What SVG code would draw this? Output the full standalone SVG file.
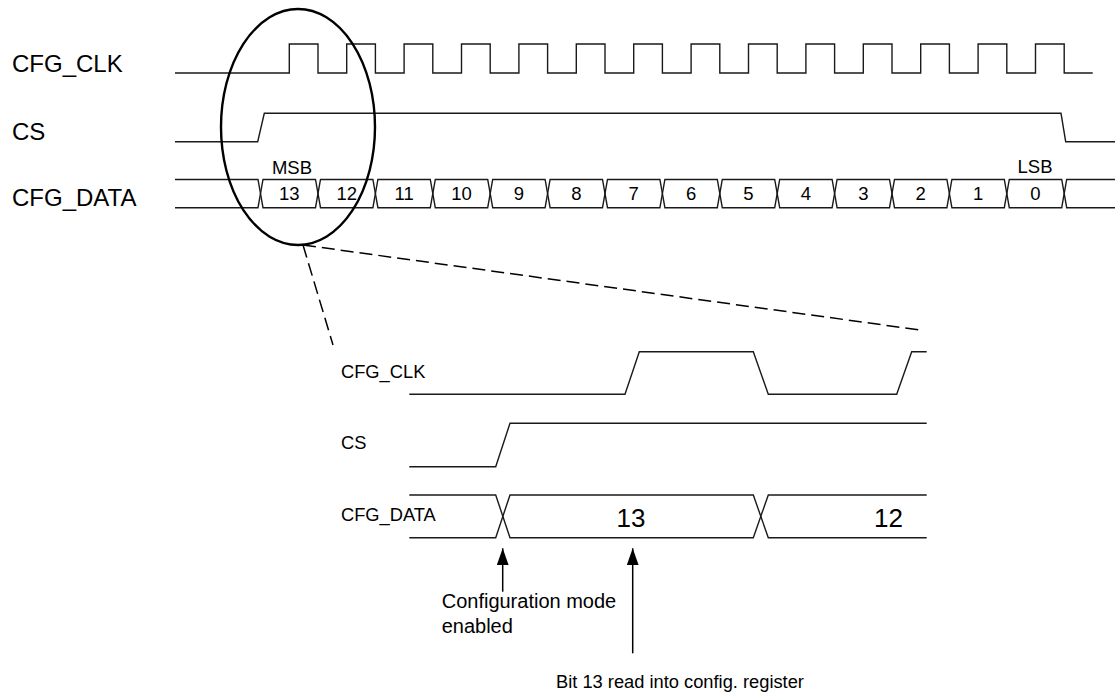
<svg xmlns="http://www.w3.org/2000/svg" width="1115" height="695" viewBox="0 0 1115 695">
<defs>
<style>
text{font-family:"Liberation Sans",Arial,Helvetica,sans-serif;fill:#000}
.sig{fill:none;stroke:#1a1a1a;stroke-width:1.4;stroke-linejoin:miter}
.lbl{font-size:24px}
.lbl2{font-size:18.3px}
.bit{font-size:18.5px;text-anchor:middle}
.big{font-size:26px;text-anchor:middle}
.note{font-size:20px}
.note2{font-size:18.3px}
.dash{fill:none;stroke:#000;stroke-width:1.5;stroke-dasharray:13 6}
.arr{fill:none;stroke:#000;stroke-width:1.5}
</style>
<marker id="ah" markerUnits="userSpaceOnUse" markerWidth="17" markerHeight="12" refX="17" refY="6" orient="auto">
<path d="M0,0 L17,6 L0,12 z" fill="#000"/>
</marker>
</defs>
<rect width="1115" height="695" fill="#fff"/>

<g id="labels-top">
<text class="lbl" x="12" y="72">CFG_CLK</text>
<text class="lbl" x="12" y="140">CS</text>
<text class="lbl" x="12" y="206">CFG_DATA</text>
<text class="bit" x="292" y="174">MSB</text>
<text class="bit" x="1035" y="173">LSB</text>
</g>

<g id="cfg-clk-top">
<path class="sig" d="M175,73 H289.3 V44 H318 V73 H346.7 V44 H375.4 V73 H404.1 V44 H432.8 V73 H461.5 V44 H490.2 V73 H518.9 V44 H547.6 V73 H576.3 V44 H605 V73 H633.7 V44 H662.4 V73 H691.1 V44 H719.8 V73 H748.5 V44 H777.2 V73 H805.9 V44 H834.6 V73 H863.3 V44 H892 V73 H920.7 V44 H949.4 V73 H978.1 V44 H1006.8 V73 H1035.5 V44 H1064.2 V73 H1092.7"/>
</g>

<g id="cs-top">
<path class="sig" d="M175,141.7 H257.7 L264.3,113.3 H1061 L1065.7,141.7 H1115"/>
</g>

<g id="cfg-data-top">
<path class="sig" d="M175,179.5 H258 L263,207.7 H315.5 L320.5,179.5 H372.9 L377.9,207.7 H430.3 L435.3,179.5 H487.7 L492.7,207.7 H545.1 L550.1,179.5 H602.5 L607.5,207.7 H659.9 L664.9,179.5 H717.3 L722.3,207.7 H774.7 L779.7,179.5 H832.1 L837.1,207.7 H889.5 L894.5,179.5 H946.9 L951.9,207.7 H1004.3 L1009.3,179.5 H1061.7 L1066.7,207.7 H1115"/>
<path class="sig" d="M175,207.7 H258 L263,179.5 H315.5 L320.5,207.7 H372.9 L377.9,179.5 H430.3 L435.3,207.7 H487.7 L492.7,179.5 H545.1 L550.1,207.7 H602.5 L607.5,179.5 H659.9 L664.9,207.7 H717.3 L722.3,179.5 H774.7 L779.7,207.7 H832.1 L837.1,179.5 H889.5 L894.5,207.7 H946.9 L951.9,179.5 H1004.3 L1009.3,207.7 H1061.7 L1066.7,179.5 H1115"/>
<text class="bit" x="289.3" y="200">13</text>
<text class="bit" x="346.7" y="200">12</text>
<text class="bit" x="404.1" y="200">11</text>
<text class="bit" x="461.5" y="200">10</text>
<text class="bit" x="518.9" y="200">9</text>
<text class="bit" x="576.3" y="200">8</text>
<text class="bit" x="633.7" y="200">7</text>
<text class="bit" x="691.1" y="200">6</text>
<text class="bit" x="748.5" y="200">5</text>
<text class="bit" x="805.9" y="200">4</text>
<text class="bit" x="863.3" y="200">3</text>
<text class="bit" x="920.7" y="200">2</text>
<text class="bit" x="978.1" y="200">1</text>
<text class="bit" x="1035.5" y="200">0</text>
</g>

<g id="zoom-ellipse">
<ellipse cx="298" cy="127" rx="77" ry="118" fill="none" stroke="#000" stroke-width="2.4"/>
</g>

<g id="labels-detail">
<text class="lbl2" x="341" y="378">CFG_CLK</text>
<text class="lbl2" x="341" y="449">CS</text>
<text class="lbl2" x="341" y="521">CFG_DATA</text>
</g>

<g id="cfg-clk-detail">
<path class="sig" d="M409.3,394.3 H625 L639.3,351.7 H753.3 L768.3,394.3 H896.7 L911.7,351.7 H926.7"/>
</g>

<g id="cs-detail">
<path class="sig" d="M409.3,466.7 H495.7 L510,423.3 H926.7"/>
</g>

<g id="cfg-data-detail">
<path class="sig" d="M409.3,495 H495.7 L510,537.7 H753.3 L768.3,495 H926.7"/>
<path class="sig" d="M409.3,537.7 H495.7 L510,495 H753.3 L768.3,537.7 H926.7"/>
<text class="big" x="631" y="527">13</text>
<text class="big" x="888.5" y="527">12</text>
</g>

<g id="note-config">
<text class="note" x="441.7" y="608.3">Configuration mode</text>
<text class="note" x="441.7" y="632.7">enabled</text>
</g>

<g id="note-bit13">
<text class="note2" x="556" y="688">Bit 13 read into config. register</text>
</g>

<g id="connectors">
<line class="dash" x1="303" y1="245" x2="920" y2="330"/>
<line class="dash" x1="303" y1="245" x2="333" y2="345"/>
<line class="arr" x1="502.7" y1="591.7" x2="502.7" y2="548.3" marker-end="url(#ah)"/>
<line class="arr" x1="632.7" y1="653.3" x2="632.7" y2="548.3" marker-end="url(#ah)"/>
</g>
</svg>
